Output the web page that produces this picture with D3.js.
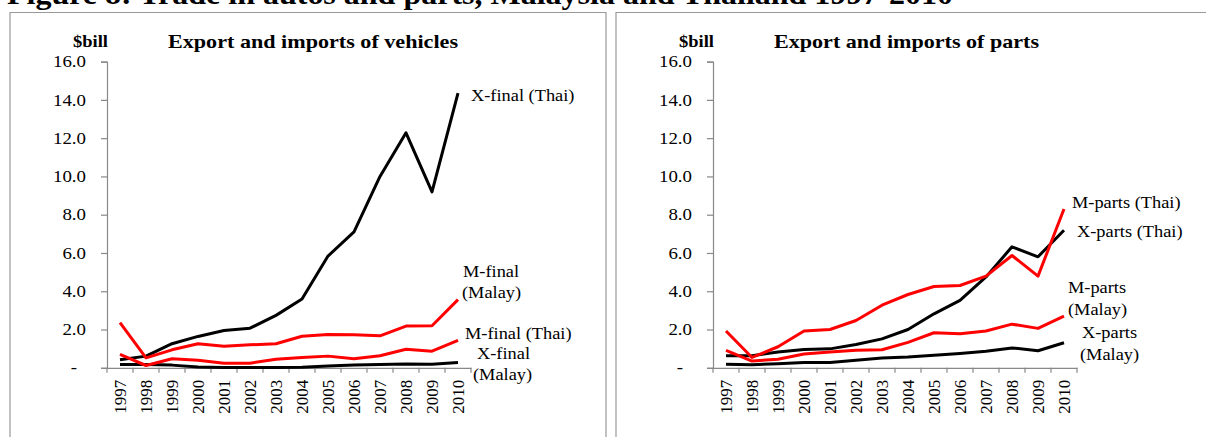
<!DOCTYPE html>
<html>
<head>
<meta charset="utf-8">
<script src="https://cdn.jsdelivr.net/npm/d3@7"></script>
<style>
  body { margin: 0; background: #fff; }
  svg { display: block; font-family: "Liberation Serif", "Times New Roman", serif; }
</style>
</head>
<body>
<svg id="chart" width="1206" height="437"></svg>
<script>
// data ($ billion)
var years = ['1997','1998','1999','2000','2001','2002','2003','2004','2005','2006','2007','2008','2009','2010'];
var yTicks = [0, 2, 4, 6, 8, 10, 12, 14, 16];

// vehicles
var xFinalThai  = [0.42, 0.61, 1.26, 1.64, 1.95, 2.07, 2.74, 3.59, 5.84, 7.10, 10.0, 12.28, 9.19, 14.35];
var mFinalMalay = [2.36, 0.52, 0.94, 1.26, 1.12, 1.20, 1.26, 1.65, 1.74, 1.73, 1.67, 2.18, 2.20, 3.56];
var mFinalThai  = [0.70, 0.12, 0.47, 0.40, 0.24, 0.24, 0.45, 0.54, 0.61, 0.47, 0.63, 0.97, 0.87, 1.43];
var xFinalMalay = [0.17, 0.17, 0.14, 0.04, 0.01, 0.02, 0.01, 0.03, 0.10, 0.14, 0.17, 0.20, 0.19, 0.28];

// parts
var mPartsThai  = [1.92, 0.54, 1.10, 1.92, 2.00, 2.47, 3.27, 3.83, 4.25, 4.30, 4.79, 5.87, 4.79, 8.30];
var xPartsThai  = [0.63, 0.63, 0.82, 0.96, 0.99, 1.22, 1.51, 2.00, 2.82, 3.52, 4.75, 6.32, 5.80, 7.19];
var mPartsMalay = [0.91, 0.35, 0.45, 0.72, 0.82, 0.92, 0.94, 1.33, 1.83, 1.78, 1.92, 2.28, 2.06, 2.70];
var xPartsMalay = [0.19, 0.16, 0.21, 0.28, 0.28, 0.39, 0.51, 0.56, 0.66, 0.75, 0.87, 1.04, 0.89, 1.31];

var svg = d3.select('#chart');

// page title (cut at the top, as in the scan)
svg.append('text')
  .attr('x', 7).attr('y', 4)
  .attr('font-size', '29px').attr('font-weight', 'bold')
  .attr('textLength', 946).attr('lengthAdjust', 'spacingAndGlyphs')
  .text('Figure 8: Trade in autos and parts, Malaysia and Thailand 1997-2010');

// panel frames
svg.append('path').attr('d', 'M10,437V12.5H606V437')
  .attr('fill', 'none').attr('stroke', '#999').attr('stroke-width', 1.2);
svg.append('path').attr('d', 'M616,437V12.5H1206')
  .attr('fill', 'none').attr('stroke', '#999').attr('stroke-width', 1.2);

function drawPanel(opts) {
  var g = svg.append('g');
  var x = d3.scaleBand().domain(years).range([opts.left, opts.left + 364]).padding(0);
  var y = d3.scaleLinear().domain([0, 16]).range([367.8, 61.6]);

  // y axis
  var yAxis = g.append('g')
    .attr('transform', 'translate(' + opts.left + ',0)')
    .call(d3.axisLeft(y).tickValues(yTicks).tickSize(6)
      .tickFormat(function(d) { return d === 0 ? '-' : d.toFixed(1); }));
  yAxis.selectAll('text')
    .attr('font-size', '16px').attr('font-family', '"Liberation Serif", serif').attr('fill', '#000')
    .attr('x', 0)
    .attr('transform', function(d) { return 'translate(' + (d === 0 ? -30 : -21) + ',0) scale(1.18,1)'; });

  // x axis: labels at category centres, ticks between categories (Excel style)
  var xAxis = g.append('g')
    .attr('transform', 'translate(0,' + y(0) + ')')
    .call(d3.axisBottom(x).tickSize(0).tickPadding(0));
  xAxis.selectAll('text')
    .attr('font-size', '17px').attr('font-family', '"Liberation Serif", serif').attr('fill', '#000')
    .attr('text-anchor', 'end')
    .attr('transform', 'rotate(-90)')
    .attr('x', -12).attr('y', 0).attr('dy', '0.35em');
  g.selectAll('.bt')
    .data(years.concat(['end']))
    .enter().append('line')
    .attr('x1', function(d, i) { return opts.left + i * x.step(); })
    .attr('x2', function(d, i) { return opts.left + i * x.step(); })
    .attr('y1', y(0)).attr('y2', y(0) + 5);

  g.selectAll('.domain, line').attr('stroke', '#888').attr('stroke-width', 1.2);

  // titles
  g.append('text').attr('x', opts.left - 34).attr('y', 47)
    .attr('font-size', '16px').attr('font-weight', 'bold')
    .attr('textLength', 35).attr('lengthAdjust', 'spacingAndGlyphs')
    .text('$bill');
  g.append('text').attr('x', opts.titleX).attr('y', 48)
    .attr('font-size', '19px').attr('font-weight', 'bold')
    .attr('textLength', opts.titleW).attr('lengthAdjust', 'spacingAndGlyphs')
    .text(opts.title);

  var line = d3.line()
    .x(function(d, i) { return x(years[i]) + x.bandwidth() / 2; })
    .y(function(d) { return y(d); });

  opts.series.forEach(function(s) {
    g.append('path')
      .datum(s.values)
      .attr('fill', 'none')
      .attr('stroke', s.color)
      .attr('stroke-width', 3)
      .attr('stroke-linejoin', 'round')
      .attr('d', line);
  });

  opts.labels.forEach(function(l) {
    g.append('text')
      .attr('transform', 'translate(' + l[0] + ',' + l[1] + ') scale(1.08,1)')
      .attr('font-size', '17px').text(l[2]);
  });
}

drawPanel({
  left: 107,
  title: 'Export and imports of vehicles',
  titleX: 168,
  titleW: 290,
  series: [
    { values: xFinalMalay, color: '#000' },
    { values: xFinalThai, color: '#000' },
    { values: mFinalThai, color: '#ff0000' },
    { values: mFinalMalay, color: '#ff0000' }
  ],
  labels: [
    [471, 101, 'X-final (Thai)'],
    [463, 277, 'M-final'],
    [462, 298, '(Malay)'],
    [465, 339, 'M-final (Thai)'],
    [477, 359, 'X-final'],
    [473, 380, '(Malay)']
  ]
});

drawPanel({
  left: 713,
  title: 'Export and imports of parts',
  titleX: 774,
  titleW: 265,
  series: [
    { values: xPartsMalay, color: '#000' },
    { values: xPartsThai, color: '#000' },
    { values: mPartsMalay, color: '#ff0000' },
    { values: mPartsThai, color: '#ff0000' }
  ],
  labels: [
    [1072, 208, 'M-parts (Thai)'],
    [1077, 237, 'X-parts (Thai)'],
    [1068, 293, 'M-parts'],
    [1068, 315, '(Malay)'],
    [1082, 338, 'X-parts'],
    [1080, 360, '(Malay)']
  ]
});
</script>
</body>
</html>
